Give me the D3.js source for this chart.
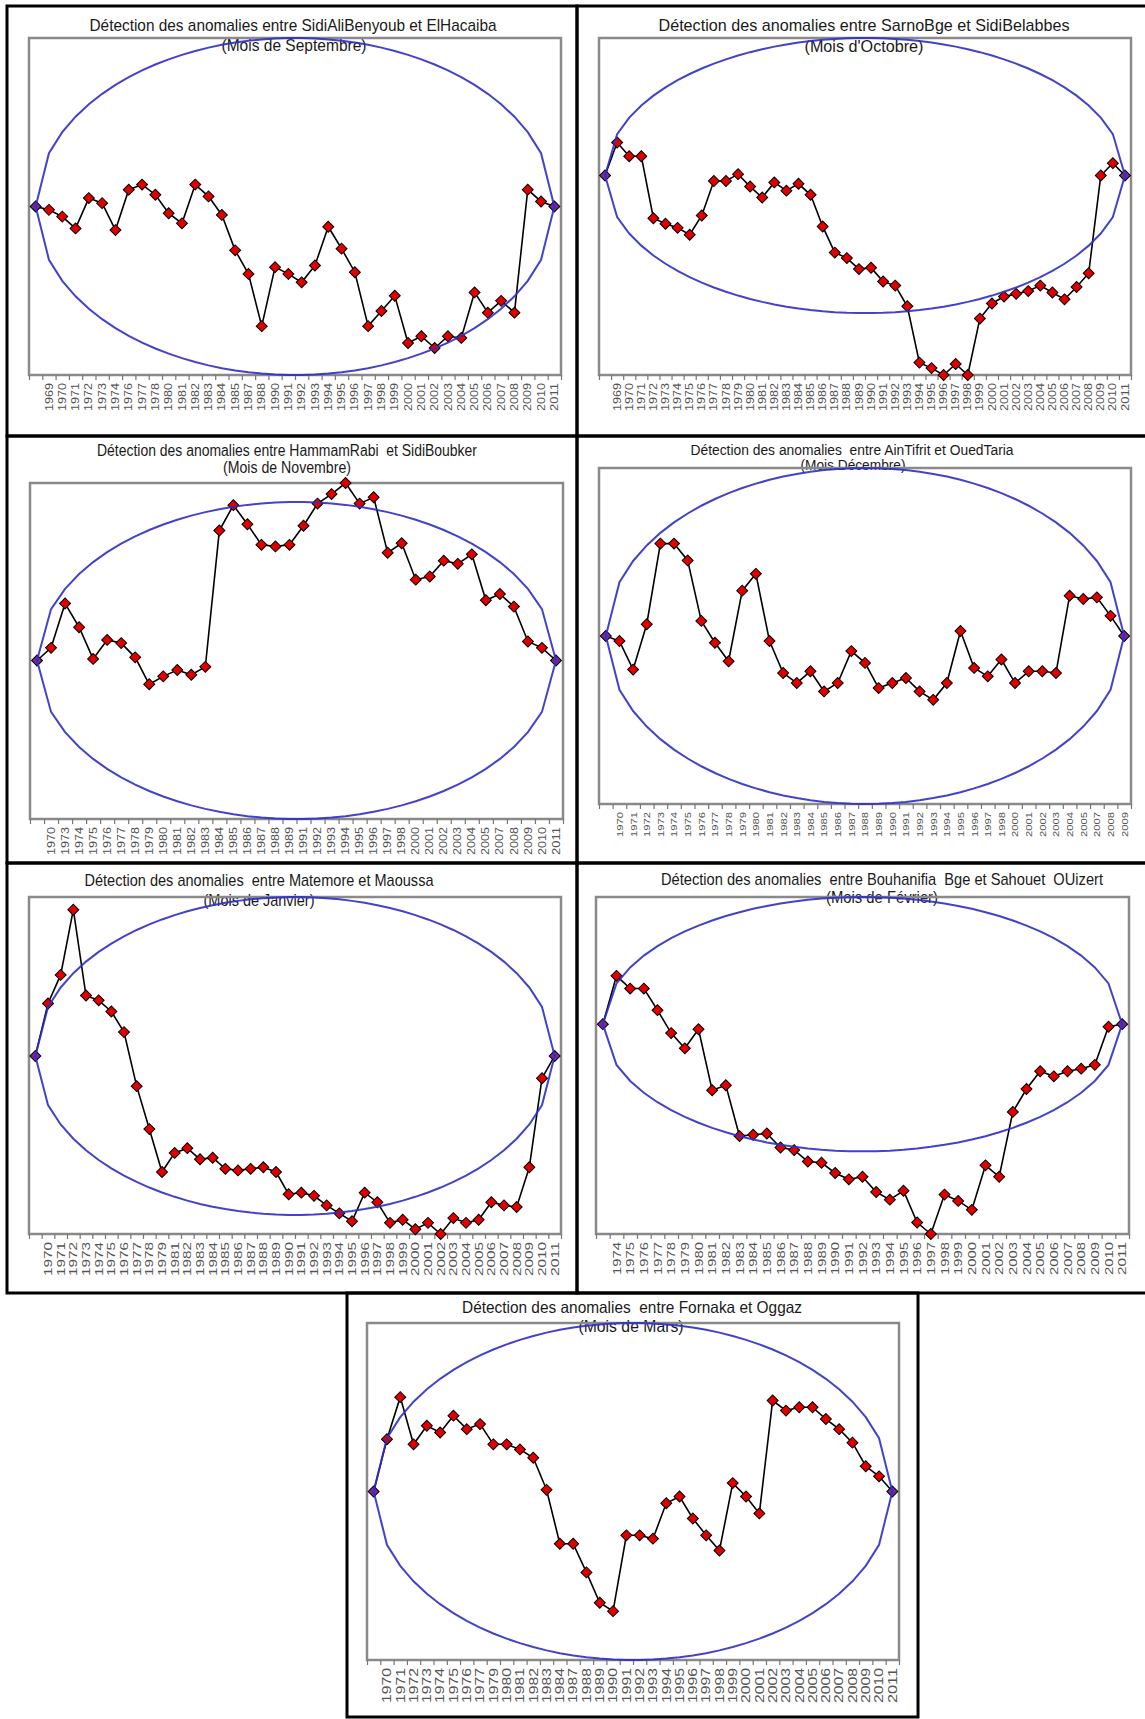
<!DOCTYPE html>
<html>
<head>
<meta charset="utf-8">
<script src="https://cdn.jsdelivr.net/npm/d3@7"></script>
<style>
  body { margin: 0; background: #fff; }
  svg text { white-space: pre; }
</style>
</head>
<body>
<svg id="fig" width="1145" height="1719"></svg>
<script>
// ---- Cumulative residuals (Bois ellipse test), one series per month ----
// First category is the unlabeled origin of the cumulative curve.

const stationPairs = [
  "Détection des anomalies entre SidiAliBenyoub et ElHacaiba",
  "Détection des anomalies entre SarnoBge et SidiBelabbes",
  "Détection des anomalies entre HammamRabi  et SidiBoubker",
  "Détection des anomalies  entre AinTifrit et OuedTaria",
  "Détection des anomalies  entre Matemore et Maoussa",
  "Détection des anomalies  entre Bouhanifia  Bge et Sahouet  OUizert",
  "Détection des anomalies  entre Fornaka et Oggaz"
];
const monthNames = [
  "(Mois de Septembre)", "(Mois d'Octobre)", "(Mois de Novembre)", "(Mois Décembre)",
  "(Mois de Janvier)", "(Mois de Février)", "(Mois de Mars)"
];

const sepYears = ["", "1969","1970","1971","1972","1973","1974","1976","1977","1978","1980","1981","1982","1983","1984","1985","1987","1988","1990","1991","1992","1993","1994","1995","1996","1997","1998","1999","2000","2001","2002","2003","2004","2005","2006","2007","2008","2009","2010","2011"];
const sepValues = [0,-2,-6,-13,5,2,-14,10,13,7,-4,-10,13,6,-5,-26,-40,-71,-36,-40,-45,-35,-12,-25,-39,-71,-62,-53,-81,-77,-84,-77,-78,-51,-63,-56,-63,10,3,0];

const octYears = ["", "1969","1970","1971","1972","1973","1974","1975","1976","1977","1978","1979","1980","1981","1982","1983","1984","1985","1986","1987","1988","1989","1990","1991","1992","1993","1994","1995","1996","1997","1998","1999","2000","2001","2002","2003","2004","2005","2006","2007","2008","2009","2010","2011"];
const octValues = [0,24,14,14,-31,-35,-38,-43,-29,-4,-4,1,-8,-16,-5,-11,-6,-14,-37,-56,-60,-68,-67,-77,-80,-95,-136,-140,-145,-137,-145,-104,-93,-88,-86,-84,-80,-85,-90,-81,-71,0,9,0];

const novYears = ["", "1970","1973","1974","1975","1976","1977","1978","1979","1980","1981","1982","1983","1984","1985","1986","1987","1988","1989","1991","1992","1993","1994","1995","1996","1997","1998","2000","2001","2002","2003","2004","2005","2007","2008","2009","2010","2011"];
const novValues = [0,8,36,21,1,13,11,2,-15,-10,-6,-9,-4,82,98,86,73,72,73,85,99,105,112,99,103,68,74,51,53,63,61,67,38,42,34,12,8,0];

const decYears = ["", "1970","1971","1972","1973","1974","1975","1976","1977","1978","1979","1980","1981","1982","1983","1984","1985","1986","1987","1988","1989","1990","1991","1992","1993","1994","1995","1996","1997","1998","2000","2001","2002","2003","2004","2005","2007","2008","2009"];
const decValues = [0,-3,-20,7,55,55,45,9,-4,-15,27,37,-3,-22,-28,-21,-33,-28,-9,-16,-31,-28,-25,-33,-38,-28,3,-19,-24,-14,-28,-21,-21,-22,24,22,23,12,0];

const janYears = ["", "1970","1971","1972","1973","1974","1975","1976","1977","1978","1979","1981","1982","1983","1984","1985","1986","1987","1988","1989","1990","1991","1992","1993","1994","1995","1996","1997","1998","1999","2000","2001","2002","2003","2004","2005","2006","2007","2008","2009","2010","2011"];
const janValues = [0,33,51,92,38,35,28,15,-19,-46,-73,-61,-58,-65,-64,-71,-72,-71,-70,-73,-87,-86,-88,-94,-99,-104,-86,-92,-105,-103,-109,-105,-112,-102,-105,-103,-92,-94,-95,-70,-14,0];

const febYears = ["", "1974","1975","1976","1977","1978","1979","1980","1981","1982","1983","1984","1985","1986","1987","1988","1989","1990","1991","1992","1993","1994","1995","1996","1997","1998","1999","2000","2001","2002","2003","2004","2005","2006","2007","2008","2009","2010","2011"];
const febValues = [0,38,28,28,11,-7,-19,-4,-52,-48,-88,-87,-86,-97,-99,-108,-109,-117,-122,-120,-132,-138,-131,-156,-165,-134,-139,-146,-111,-120,-69,-51,-37,-41,-37,-35,-32,-2,0];

const marYears = ["", "1970","1971","1972","1973","1974","1975","1976","1977","1979","1980","1981","1982","1983","1984","1987","1988","1989","1990","1991","1992","1993","1994","1995","1996","1997","1998","1999","2000","2001","2002","2003","2004","2005","2006","2007","2008","2009","2010","2011"];
const marValues = [0,31,56,28,39,35,45,37,40,28,28,25,20,1,-31,-31,-48,-66,-71,-26,-26,-28,-7,-3,-16,-26,-35,5,-3,-13,54,48,50,50,43,37,29,15,9,0];

// half vertical axis of each Bois ellipse, same units as the residuals
const ellipseHalfAxis = [100, 100, 100, 100, 100, 100, 100];

const yearLists = [sepYears, octYears, novYears, decYears, janYears, febYears, marYears];
const valueLists = [sepValues, octValues, novValues, decValues, janValues, febValues, marValues];

// ---- Page layout ----
const frames = [
  [7, 6, 577, 436], [577, 6, 1147, 436],
  [7, 436, 577, 863], [577, 436, 1147, 863],
  [7, 863, 577, 1293], [577, 863, 1147, 1293],
  [347, 1293, 918, 1717]
];
const plotAreas = [
  [29, 38, 561, 375], [599, 38, 1131, 375],
  [30, 483, 563, 819], [599, 468, 1131, 804],
  [29, 897, 561, 1234], [596, 897, 1129, 1234],
  [367, 1323, 899, 1660]
];
// title: centre x, baseline y, font size, rendered width
const titleSpecs = [
  [293, 31, 17, 407], [864, 31, 17, 411],
  [287, 456, 16, 380], [852, 455, 14, 323],
  [259, 886, 17, 349], [882, 885, 17, 442],
  [632, 1313, 16.5, 340]
];
const subtitleSpecs = [
  [294, 51, 17, 145], [864, 52, 17, 119],
  [287, 473, 16, 128], [853, 470, 14, 105],
  [259, 906, 17, 111], [882, 903, 17, 112],
  [631, 1332, 16.5, 105]
];
// year labels: font size and rendered length along the text
const tickLabelSpecs = [
  [10, 28], [10, 28], [10, 28], [9.5, 25],
  [11.5, 34], [11.5, 33], [12, 35]
];

const svg = d3.select("#fig");
svg.append("rect").attr("width", 1145).attr("height", 1719).attr("fill", "#fff");

const diamond = d3.symbol(d3.symbolSquare, 60);

valueLists.forEach((values, k) => {
  const years = yearLists[k];
  const [px0, py0, px1, py1] = plotAreas[k];
  const [bx0, by0, bx1, by1] = frames[k];
  const b = ellipseHalfAxis[k];
  const n = values.length;
  const g = svg.append("g");

  const x = d3.scaleBand().domain(d3.range(n)).range([px0, px1]);
  const xc = i => x(i) + x.bandwidth() / 2;
  const xEdges = d3.scaleLinear().domain([0, n]).range([px0, px1]);
  const y = d3.scaleLinear().domain(d3.extent([...values, -b, b])).range([py1, py0]);

  // panel frame
  g.append("rect")
    .attr("x", bx0).attr("y", by0)
    .attr("width", bx1 - bx0).attr("height", by1 - by0)
    .attr("fill", "none").attr("stroke", "#000").attr("stroke-width", 3);

  // titles
  const [tx, ty, ts, tw] = titleSpecs[k];
  g.append("text")
    .attr("x", tx).attr("y", ty)
    .attr("text-anchor", "middle")
    .attr("textLength", tw).attr("lengthAdjust", "spacingAndGlyphs")
    .style("font-family", "'Liberation Sans', Arial, sans-serif")
    .style("font-size", ts + "px")
    .attr("fill", "#1a1a1a")
    .text(stationPairs[k]);
  const [sx, sy, ss, sw] = subtitleSpecs[k];
  g.append("text")
    .attr("x", sx).attr("y", sy)
    .attr("text-anchor", "middle")
    .attr("textLength", sw).attr("lengthAdjust", "spacingAndGlyphs")
    .style("font-family", "'Liberation Sans', Arial, sans-serif")
    .style("font-size", ss + "px")
    .attr("fill", "#1a1a1a")
    .text(monthNames[k]);

  // plot area border
  g.append("rect")
    .attr("x", px0).attr("y", py0)
    .attr("width", px1 - px0).attr("height", py1 - py0)
    .attr("fill", "none").attr("stroke", "#8a8a8a").attr("stroke-width", 2.5);

  // tick marks between categories
  const tickAxis = g.append("g")
    .attr("transform", `translate(0,${py1})`)
    .call(d3.axisBottom(xEdges).tickValues(d3.range(n + 1)).tickSize(5).tickFormat(""));
  tickAxis.select(".domain").remove();
  tickAxis.selectAll("line").attr("stroke", "#777").attr("stroke-width", 1.2);

  // year labels, rotated
  const [lfs, llen] = tickLabelSpecs[k];
  const labelAxis = g.append("g")
    .attr("transform", `translate(0,${py1})`)
    .call(d3.axisBottom(x).tickSize(0).tickFormat(i => years[i]));
  labelAxis.select(".domain").remove();
  labelAxis.selectAll("text")
    .filter(function () { return this.textContent !== ""; })
    .attr("transform", "rotate(-90)")
    .attr("x", -8).attr("y", 0).attr("dy", "0.36em")
    .attr("textLength", llen).attr("lengthAdjust", "spacingAndGlyphs")
    .style("text-anchor", "end")
    .style("font-family", "'Liberation Sans', Arial, sans-serif")
    .style("font-size", lfs + "px")
    .attr("fill", "#555");

  // cumulative residual curve
  const line = d3.line().x((d, i) => xc(i)).y(d => y(d));
  g.append("path")
    .datum(values)
    .attr("d", line)
    .attr("fill", "none").attr("stroke", "#000").attr("stroke-width", 1.6);

  // diamonds; the two anchor points of the curve sit on the ellipse tips
  g.selectAll("path.mk")
    .data(values)
    .join("path")
    .attr("class", "mk")
    .attr("d", diamond)
    .attr("transform", (d, i) => `translate(${xc(i)},${y(d)}) rotate(45)`)
    .attr("fill", (d, i) => (i === 0 || i === n - 1) ? "#7d2598" : "#e00000")
    .attr("stroke", "#000").attr("stroke-width", 1);

  // Bois ellipse evaluated at each category
  const c = (n - 1) / 2;
  const half = d3.range(n).map(i => {
    const t = (i - c) / c;
    return b * Math.sqrt(Math.max(0, 1 - t * t));
  });
  const upper = half.map((h, i) => [xc(i), y(h)]);
  const lower = half.map((h, i) => [xc(i), y(-h)]).reverse();
  g.append("path")
    .attr("d", d3.line()([...upper, ...lower]) + "Z")
    .attr("fill", "none")
    .attr("stroke", "#2e2ec8").attr("stroke-width", 2)
    .attr("stroke-opacity", 0.9);
});
</script>
</body>
</html>
